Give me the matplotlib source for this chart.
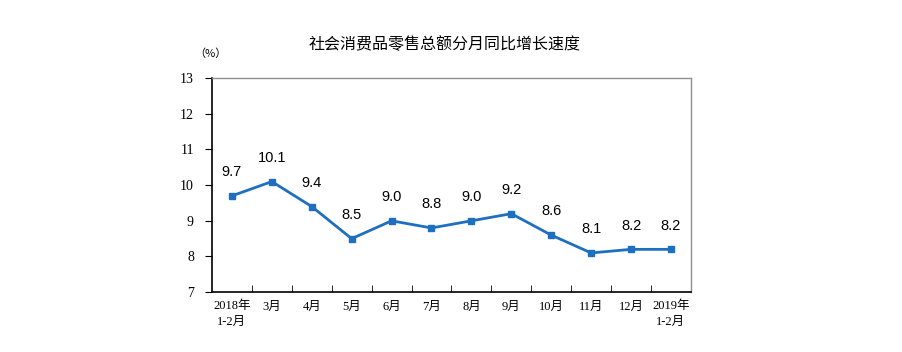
import matplotlib
matplotlib.use('Agg')
import matplotlib.pyplot as plt

months = ['2018年\n1-2月', '3月', '4月', '5月', '6月', '7月', '8月', '9月',
          '10月', '11月', '12月', '2019年\n1-2月']
growth = [9.7, 10.1, 9.4, 8.5, 9.0, 8.8, 9.0, 9.2, 8.6, 8.1, 8.2, 8.2]
yticks = [7, 8, 9, 10, 11, 12, 13]

cjk = ['Noto Sans CJK SC', 'DejaVu Sans']
serif = ['Liberation Serif', 'Noto Sans CJK SC']

fig = plt.figure(figsize=(9.02, 3.52), dpi=100)
ax = fig.add_axes([0.235, 0.170, 0.531, 0.608])

x = list(range(len(months)))
ax.plot(x, growth, color='#1f6fc0', lw=2, marker='s', ms=5)
for xi, v in zip(x, growth):
    ax.annotate(f'{v:.1f}', (xi, v), xytext=(0, 12), textcoords='offset points',
                ha='center', va='bottom', fontsize=10.5, family='Liberation Sans')

ax.set_xlim(-0.5, len(months) - 0.5)
ax.set_ylim(7, 13)
ax.set_yticks(yticks)
ax.set_yticklabels([str(t) for t in yticks], family=serif, fontsize=10)
ax.set_xticks(x)
ax.set_xticklabels(months, family=serif, fontsize=9, linespacing=1.4)
ax.set_xticks([i + 0.5 for i in x[:-1]], minor=True)
ax.tick_params(axis='x', which='major', length=0, pad=6)
ax.tick_params(axis='x', which='minor', direction='in', length=5, color='black')
ax.tick_params(axis='y', direction='out', length=5, pad=8)

for s in ['left', 'bottom']:
    ax.spines[s].set_color('black')
    ax.spines[s].set_linewidth(1.2)
for s in ['top', 'right']:
    ax.spines[s].set_color('#909090')
    ax.spines[s].set_linewidth(1)

fig.text(0.493, 0.872, '社会消费品零售总额分月同比增长速度', ha='center', va='center',
         fontsize=11.5, family=cjk)
fig.text(0.233, 0.848, '（%）', ha='center', va='center', fontsize=8, family=cjk)

fig.savefig('out.png', dpi=100, facecolor='white')
